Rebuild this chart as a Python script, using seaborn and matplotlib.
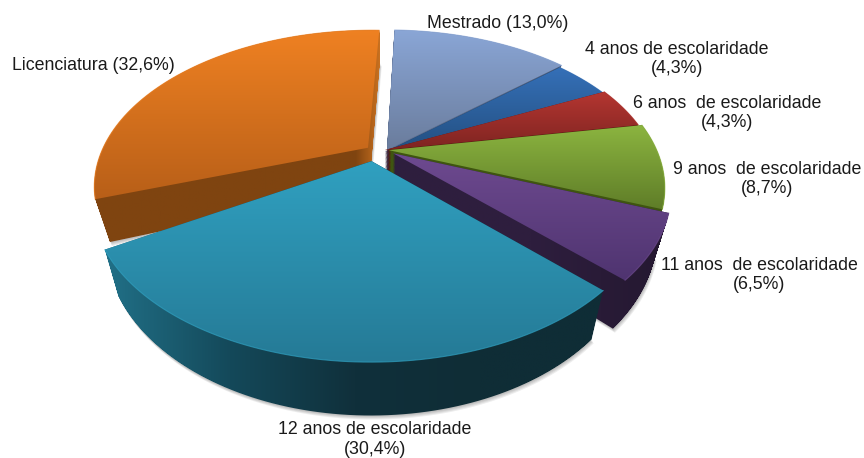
import numpy as np
import seaborn as sns
import matplotlib.pyplot as plt
from matplotlib.path import Path
from matplotlib.patches import PathPatch

# clockwise from the top of the pie
categories = ["Mestrado", "4 anos", "6 anos", "9 anos", "11 anos", "12 anos", "Licenciatura"]
values = [13.0, 4.3, 4.3, 8.7, 6.5, 30.4, 32.6]
labels = ["Mestrado (13,0%)", "4 anos de escolaridade\n(4,3%)", "6 anos  de escolaridade\n(4,3%)",
          "9 anos  de escolaridade\n(8,7%)", "11 anos  de escolaridade\n(6,5%)",
          "12 anos de escolaridade\n(30,4%)", "Licenciatura (32,6%)"]

# styles, same order as categories
explode = [0.0, 0.0, 0.0, 0.01, 0.04, 0.055, 0.09]
nudge = [(1, 0), (-1, 2), (-1, 0), (0, 0), (-2, 0), (-12, 3), (2, 5)]
# degrees taken off the slice at its first and last clockwise edge
trim_first = [0, 0, 0, 0, 0, 0, 6.5]
trim_last = [0, 0, 0, 0, 0, 5, 0]
top_colors = [("#8aa6d6", "#6a7c9c"), ("#3570b8", "#234f80"), ("#b53631", "#7e2421"),
              ("#8cb540", "#5f7d28"), ("#6e4a90", "#4f3470"), ("#30a0c0", "#257a96"),
              ("#ef8122", "#b85f18")]
wall_colors = [["#5f7090", "#4a5a78"], ["#1a4573", "#163a62"], ["#5a1412", "#5a1412"],
               ["#3f5510", "#3f5510"], ["#2e1e3e", "#2e1e3e", "#241830"],
               ["#217087", "#14495a", "#10303b", "#0f2d36", "#0f2d36"],
               ["#7f4410"] * 12 + ["#c87020"]]
label_pos = [(498, 24), (677, 59), (727, 113), (767, 179), (759, 275), (375, 439.5), (93, 66)]
draw_order = [6, 0, 1, 2, 3, 4, 5]

start_angle = 88
cx, cy = 386, 150
rx, ry, persp, depth = 268, 148.6, 0.238, 40
converge = 0.05

sns.set_theme(style="white")
plt.rcParams["font.family"] = ["Liberation Sans", "DejaVu Sans"]

fig, ax = plt.subplots(figsize=(8.64, 4.58), dpi=100)
fig.subplots_adjust(0, 0, 1, 1)
ax.set_axis_off()


def project(u, v, z=0.0):
    w = 1 + persp * v
    x = cx + rx * u / w
    return cx + (x - cx) * (1 - converge * z / depth), cy - ry * v / w + z / w


def wedge_outline(a1, a2, mid, off):
    t = np.radians(np.linspace(a1, a2, 80))
    ox, oy = off * np.cos(np.radians(mid)), off * np.sin(np.radians(mid))
    u = np.concatenate([[ox], ox + np.cos(t), [ox]])
    v = np.concatenate([[oy], oy + np.sin(t), [oy]])
    return u, v


def gradient_fill(path, colors, vertical, zorder):
    x0, y0 = path.vertices.min(axis=0)
    x1, y1 = path.vertices.max(axis=0)
    cmap = sns.blend_palette(colors, as_cmap=True)
    ramp = np.linspace(0, 1, 256)
    grad = ramp[:, None] if vertical else ramp[None, :]
    im = ax.imshow(grad, extent=(x0, x1, y1, y0), aspect="auto", cmap=cmap, zorder=zorder)
    im.set_clip_path(path, transform=ax.transData)


ends = start_angle - np.cumsum(values) / np.sum(values) * 360
starts = np.concatenate([[start_angle], ends[:-1]])

for n, i in enumerate(draw_order):
    mid = (ends[i] + starts[i]) / 2
    u, v = wedge_outline(ends[i] + trim_last[i], starts[i] - trim_first[i], mid, explode[i])
    dx, dy = nudge[i]

    # soft shadow under the slice
    x, y = project(u, v, depth)
    for s in (1, 2, 3, 4):
        shadow = Path(np.column_stack([x + dx + s * 0.5, y + dy + s]))
        ax.add_patch(PathPatch(shadow, fc="black", ec="none", alpha=0.07, zorder=10 + 3 * n))

    # side wall: the outline repeated downwards
    rings = []
    for d in np.linspace(0, depth, 50):
        x, y = project(u, v, d)
        rings.append(Path(np.column_stack([x + dx, y + dy]), closed=False))
    gradient_fill(Path.make_compound_path(*rings), wall_colors[i], False, 11 + 3 * n)

    # top face
    x, y = project(u, v)
    x, y = x + dx, y + dy
    top = Path(np.column_stack([x, y]))
    gradient_fill(top, top_colors[i], True, 12 + 3 * n)
    ax.plot(x[1:-1], y[1:-1], color=top_colors[i][0], lw=0.8, alpha=0.7, zorder=12 + 3 * n)

for txt, (px, py) in zip(labels, label_pos):
    ax.text(px, py, txt, ha="center", va="center", fontsize=12.8, color="#1a1a1a",
            linespacing=1.2, zorder=50)

ax.set_xlim(0, 864)
ax.set_ylim(458, 0)
fig.savefig("out.png", dpi=100, facecolor="white")
